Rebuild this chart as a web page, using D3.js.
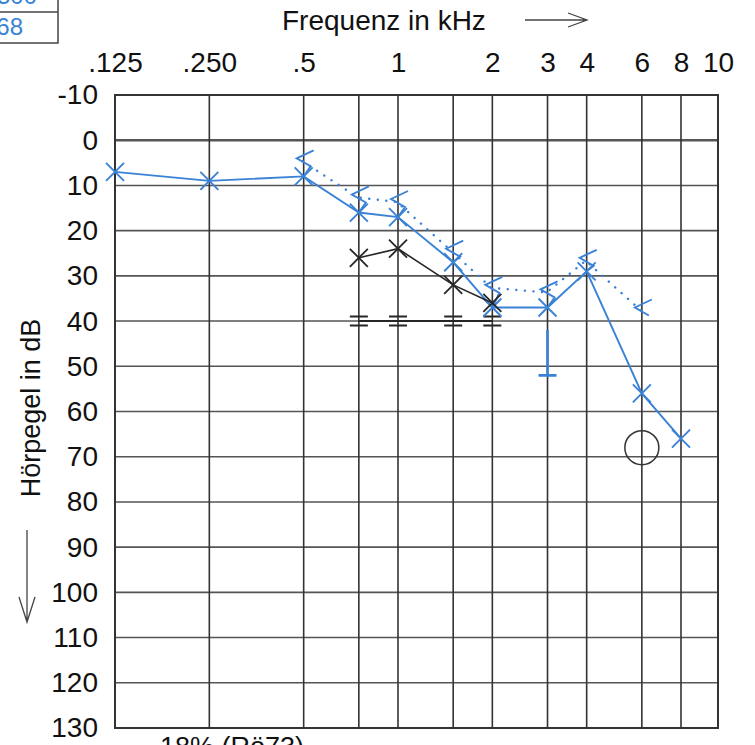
<!DOCTYPE html>
<html>
<head>
<meta charset="utf-8">
<script src="https://cdn.jsdelivr.net/npm/d3@7"></script>
<style>
  body { margin: 0; background: #fff; }
  svg { display: block; font-family: "Liberation Sans", Arial, sans-serif; }
</style>
</head>
<body>
<script>
// frequencies (kHz) and levels (dB HL)
const tickFreqs = [0.125, 0.25, 0.5, 1, 2, 3, 4, 6, 8, 10];
const tickLabels = [".125", ".250", ".5", "1", "2", "3", "4", "6", "8", "10"];
const gridFreqs = [0.25, 0.5, 0.75, 1, 1.5, 2, 3, 4, 6, 8];
const dbTicks = [-10, 0, 10, 20, 30, 40, 50, 60, 70, 80, 90, 100, 110, 120, 130];

// blue X, air conduction
const airFreqs = [0.125, 0.25, 0.5, 0.75, 1, 1.5, 2, 3, 4, 6, 8];
const airValues = [7, 9, 8, 16, 17, 27, 37, 37, 29, 56, 66];

// blue <, bone conduction (dotted)
const boneFreqs = [0.5, 0.75, 1, 1.5, 2, 3, 4, 6];
const boneValues = [4, 12, 13, 24, 32, 33, 26, 37];

// black X
const blackFreqs = [0.75, 1, 1.5, 2];
const blackValues = [26, 24, 32, 36];

// black masking marks
const maskFreqs = [0.75, 1, 1.5, 2];
const maskValues = [40, 40, 40, 40];

// blue bar at 3 kHz, black circle at 6 kHz
const barFreq = 3, barFrom = 42, barTo = 52;
const circleFreq = 6, circleValue = 68;

const W = 755, H = 745;
const margin = {left: 115, top: 95};
const w = 603, h = 633;
const blue = "#3a82d6";
const ink = "#262626";

const x = d3.scaleLog().domain([0.125, 8, 10]).range([0, 566, w]);
const y = d3.scaleLinear().domain([-10, 130]).range([0, h]);

const svg = d3.select("body").append("svg")
  .attr("width", W)
  .attr("height", H);

const g = svg.append("g")
  .attr("transform", `translate(${margin.left},${margin.top})`);

// grid
g.selectAll(".hgrid")
  .data(dbTicks.filter(d => d > -10 && d < 130))
  .enter().append("line")
  .attr("x1", 0).attr("x2", w)
  .attr("y1", d => y(d)).attr("y2", d => y(d))
  .attr("stroke", "#555")
  .attr("stroke-width", d => d === 0 ? 2.6 : 1.6);

g.selectAll(".vgrid")
  .data(gridFreqs)
  .enter().append("line")
  .attr("x1", d => x(d)).attr("x2", d => x(d))
  .attr("y1", 0).attr("y2", h)
  .attr("stroke", "#333")
  .attr("stroke-width", 1.6);

g.append("rect")
  .attr("width", w).attr("height", h)
  .attr("fill", "none")
  .attr("stroke", "#333")
  .attr("stroke-width", 2);

// axes (labels only)
const xAxis = d3.axisTop(x)
  .tickValues(tickFreqs)
  .tickFormat((d, i) => tickLabels[i])
  .tickSize(0)
  .tickPadding(23);

g.append("g").call(xAxis)
  .call(a => a.select(".domain").remove())
  .selectAll("text")
  .attr("font-family", "Liberation Sans, Arial, sans-serif")
  .attr("font-size", 28)
  .attr("fill", "#111");

const yAxis = d3.axisLeft(y)
  .tickValues(dbTicks)
  .tickFormat(d => String(d))
  .tickSize(0)
  .tickPadding(17);

g.append("g").call(yAxis)
  .call(a => a.select(".domain").remove())
  .selectAll("text")
  .attr("font-family", "Liberation Sans, Arial, sans-serif")
  .attr("font-size", 28)
  .attr("fill", "#111");

// titles
svg.append("text")
  .attr("x", 282).attr("y", 30)
  .attr("font-size", 28)
  .attr("fill", "#111")
  .text("Frequenz in kHz");

svg.append("path")
  .attr("d", "M525,20 L587,20 M568,13 L587,20 L568,27")
  .attr("fill", "none").attr("stroke", "#444").attr("stroke-width", 1.3);

svg.append("text")
  .attr("transform", "translate(40,408) rotate(-90)")
  .attr("text-anchor", "middle")
  .attr("font-size", 27)
  .attr("fill", "#111")
  .text("Hörpegel in dB");

svg.append("path")
  .attr("d", "M27,530 L27,622 M19,597 L27,622 L35,597")
  .attr("fill", "none").attr("stroke", "#444").attr("stroke-width", 1.3);

// corner table fragment
svg.append("path")
  .attr("d", "M0,12 L58,12 M58,0 L58,43 L0,43")
  .attr("fill", "none").attr("stroke", "#444").attr("stroke-width", 1.5);
svg.append("text")
  .attr("x", 37).attr("y", 4)
  .attr("text-anchor", "end")
  .attr("font-size", 24).attr("fill", blue)
  .text("500");
svg.append("text")
  .attr("x", 23).attr("y", 35)
  .attr("text-anchor", "end")
  .attr("font-size", 24).attr("fill", blue)
  .text("68");

svg.append("text")
  .attr("x", 160).attr("y", 756)
  .attr("font-size", 27).attr("fill", "#111")
  .text("18% (Rö73)");

// black masking line and marks
g.append("line")
  .attr("x1", x(maskFreqs[0])).attr("x2", x(maskFreqs[maskFreqs.length - 1]))
  .attr("y1", y(maskValues[0])).attr("y2", y(maskValues[0]))
  .attr("stroke", ink).attr("stroke-width", 2);

g.selectAll(".mask")
  .data(maskFreqs.map((f, i) => [f, maskValues[i]]))
  .enter().append("path")
  .attr("d", d => {
    const cx = x(d[0]), cy = y(d[1]);
    return `M${cx - 9},${cy - 4.5} L${cx + 9},${cy - 4.5} M${cx - 9},${cy + 4.5} L${cx + 9},${cy + 4.5}`;
  })
  .attr("stroke", ink).attr("stroke-width", 2);

// bone conduction dotted line
const bonePts = boneFreqs.map((f, i) => [f, boneValues[i]]);
g.append("path")
  .datum(bonePts)
  .attr("d", d3.line().x(d => x(d[0]) - 1).y(d => y(d[1]) + 3))
  .attr("fill", "none")
  .attr("stroke", blue)
  .attr("stroke-width", 2.4)
  .attr("stroke-linecap", "round")
  .attr("stroke-dasharray", "0.1 8.5");

g.selectAll(".bone")
  .data(bonePts)
  .enter().append("path")
  .attr("d", d => {
    const vx = x(d[0]) - 7, vy = y(d[1]);
    let p = `M${vx + 17},${vy - 8} L${vx},${vy} L${vx + 14},${vy + 8}`;
    const ai = airFreqs.indexOf(d[0]);
    if (ai >= 0 && airValues[ai] - d[1] < 10) {
      p += ` L${x(d[0])},${y(airValues[ai])}`;
    }
    return p;
  })
  .attr("fill", "none")
  .attr("stroke", blue)
  .attr("stroke-width", 1.9);

// blue air conduction
const airPts = airFreqs.map((f, i) => [f, airValues[i]]);
g.append("path")
  .datum(airPts)
  .attr("d", d3.line().x(d => x(d[0])).y(d => y(d[1])))
  .attr("fill", "none")
  .attr("stroke", blue)
  .attr("stroke-width", 1.9);

const cross = (cx, cy, s) =>
  `M${cx - s},${cy - s} L${cx + s},${cy + s} M${cx - s},${cy + s} L${cx + s},${cy - s}`;

g.selectAll(".airx")
  .data(airPts)
  .enter().append("path")
  .attr("d", d => cross(x(d[0]), y(d[1]), 9))
  .attr("stroke", blue)
  .attr("stroke-width", 1.9);

// black X
const blackPts = blackFreqs.map((f, i) => [f, blackValues[i]]);
g.append("path")
  .datum(blackPts)
  .attr("d", d3.line().x(d => x(d[0])).y(d => y(d[1])))
  .attr("fill", "none")
  .attr("stroke", ink)
  .attr("stroke-width", 1.6);

g.selectAll(".blackx")
  .data(blackPts)
  .enter().append("path")
  .attr("d", d => cross(x(d[0]), y(d[1]), 9))
  .attr("stroke", ink)
  .attr("stroke-width", 1.8);

// bar at 3 kHz
g.append("path")
  .attr("d", `M${x(barFreq)},${y(barFrom)} L${x(barFreq)},${y(barTo)} M${x(barFreq) - 9},${y(barTo)} L${x(barFreq) + 9},${y(barTo)}`)
  .attr("stroke", blue)
  .attr("stroke-width", 2.6);

// circle at 6 kHz
g.append("circle")
  .attr("cx", x(circleFreq))
  .attr("cy", y(circleValue))
  .attr("r", 17)
  .attr("fill", "none")
  .attr("stroke", "#333")
  .attr("stroke-width", 1.5);
</script>
</body>
</html>
